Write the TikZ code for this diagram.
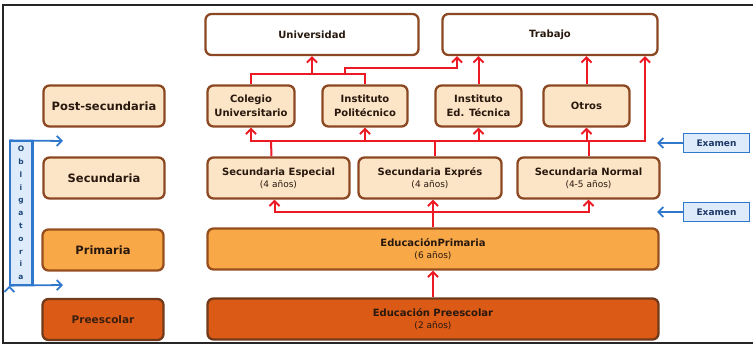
\documentclass[tikz,border=0pt]{standalone}
\usepackage{fontspec}
\setmainfont{DejaVu Sans}
\usetikzlibrary{arrows.meta}
\definecolor{peach}{RGB}{252,228,198}
\definecolor{orangeP}{RGB}{249,168,72}
\definecolor{orangeD}{RGB}{218,90,22}
\definecolor{brownline}{RGB}{140,72,34}
\definecolor{textdark}{RGB}{40,24,14}
\definecolor{redline}{RGB}{236,26,36}
\definecolor{blueline}{RGB}{48,120,204}
\definecolor{bluefill}{RGB}{222,235,250}
\definecolor{bluetext}{RGB}{30,56,104}
\begin{document}
\begin{tikzpicture}[x=1pt,y=-1pt,->,>={Straight Barb[length=5pt,width=10pt]},
    box/.style={draw=brownline,line width=2.3pt,rounded corners=6pt,align=center,
        text=textdark,font=\bfseries\fontsize{10}{14}\selectfont,
        minimum height=41pt,inner sep=2pt},
    lvl/.style={box,minimum width=121pt,font=\bfseries\fontsize{11.5}{14}\selectfont},
    flow/.style={draw=redline,line width=2pt},
    exam/.style={draw=blueline,fill=bluefill,line width=1.6pt,text=bluetext,
        font=\bfseries\fontsize{9}{11}\selectfont,minimum width=66pt,minimum height=19pt,inner sep=1pt},
    barrow/.style={draw=blueline,line width=1.8pt}]
    \useasboundingbox (0,0) rectangle (753,346);
    \draw[-,line width=1.6pt,black!85] (753,5) -- (3,5) -- (3,343) -- (753,343);
    % levels
    \node (lpost) [lvl,fill=peach] at (104,106) {Post-secundaria};
    \node (lsec) [lvl,fill=peach] at (104,178) {Secundaria};
    \node (lprim) [lvl,fill=orangeP,draw=brownline!90!orange] at (103,250) {Primaria};
    \node (lpre) [lvl,fill=orangeD,draw=brownline!80!black,text=textdark!90!orangeD,
        font=\bfseries\fontsize{10.5}{13}\selectfont] at (103,319.5) {Preescolar};
    % destinations
    \node (uni) [box,fill=white,minimum width=213pt] at (312,34.5) {Universidad};
    \node (trab) [box,fill=white,minimum width=215pt] at (550,34.5) {Trabajo};
    % post-secundaria
    \node (col) [box,fill=peach,minimum width=87pt] at (251,106) {Colegio\\Universitario};
    \node (poli) [box,fill=peach,minimum width=85pt] at (365,106) {Instituto\\Politécnico};
    \node (tec) [box,fill=peach,minimum width=86pt] at (478.5,106) {Instituto\\Ed. Técnica};
    \node (otros) [box,fill=peach,minimum width=86pt] at (586.5,106) {Otros};
    % secundaria
    \node (sesp) [box,fill=peach,minimum width=142pt] at (278.5,178)
        {Secundaria Especial\\[-2pt]{\mdseries\fontsize{9}{10}\selectfont(4 años)}};
    \node (sexp) [box,fill=peach,minimum width=143pt] at (430,178)
        {Secundaria Exprés\\[-2pt]{\mdseries\fontsize{9}{10}\selectfont(4 años)}};
    \node (snor) [box,fill=peach,minimum width=142pt] at (588.5,178)
        {Secundaria Normal\\[-2pt]{\mdseries\fontsize{9}{10}\selectfont(4-5 años)}};
    % primaria, preescolar
    \node (eprim) [box,fill=orangeP,draw=brownline!90!orange,minimum width=451pt] at (433,249)
        {EducaciónPrimaria\\[-2pt]{\mdseries\fontsize{9}{10}\selectfont(6 años)}};
    \node (epre) [box,fill=orangeD,draw=brownline!80!black,minimum width=451pt] at (433,319)
        {Educación Preescolar\\[-2pt]{\mdseries\fontsize{9}{10}\selectfont(2 años)}};
    % examen, obligatoria
    \node (ex1) [exam] at (716.5,143) {Examen};
    \node (ex2) [exam] at (716.5,212) {Examen};
    \node (oblig) [draw=blueline,fill=bluefill,line width=1.3pt,minimum width=22pt,
        minimum height=144pt,inner sep=0pt,align=center,text=blueline!60!black,
        font=\bfseries\fontsize{7.5}{12.8}\selectfont] at (21,213)
        {O\\b\\l\\i\\g\\a\\t\\o\\r\\i\\a};
    \draw[-,draw=blueline,line width=2.2pt] (oblig.north east) -- (oblig.south east);
    \coordinate (o1) at (63,141);
    \coordinate (o2) at (63,285);
    \coordinate (e1) at (657,143);
    \coordinate (e2) at (657,212);
    \path[barrow]
    (oblig.north west) edge (o1)
    (oblig.south west) edge (o2)
    (ex1) edge (e1)
    (ex2) edge (e2);
    % red connectors
    \coordinate (j1) at (433,212);
    \coordinate (j2) at (271,141);
    \coordinate (j3) at (312,74);
    \coordinate (j4) at (345,74);
    \draw[flow] (epre.north) -- (eprim.south);
    \draw[flow] (eprim.north) -- (eprim.north |- sexp.south);
    \draw[flow] (j1) -| ([xshift=-4pt]sesp.south);
    \draw[flow] (j1) -| (snor.south);
    \draw[flow,-] ([xshift=-7pt]sesp.north) -- (j2);
    \draw[flow,-] ([xshift=5pt]sexp.north) -- ([xshift=5pt]sexp.north |- j2);
    \draw[flow,-] (snor.north) -- (snor.north |- j2);
    \draw[flow] (j2) -| (col.south);
    \draw[flow] (j2) -| (poli.south);
    \draw[flow] (j2) -| (tec.south);
    \draw[flow] (j2) -| (otros.south);
    \draw[flow] (j2) -| ([xshift=95pt]trab.south);
    \draw[flow,-] (col.north) |- (j3) -| (poli.north);
    \draw[flow] (j3) -- (uni.south);
    \draw[flow] (j4) -- (345,68) -| ([xshift=-93pt]trab.south);
    \draw[flow] (tec.north) -- (tec.north |- trab.south);
    \draw[flow] (otros.north) -- (otros.north |- trab.south);
\end{tikzpicture}
\end{document}
